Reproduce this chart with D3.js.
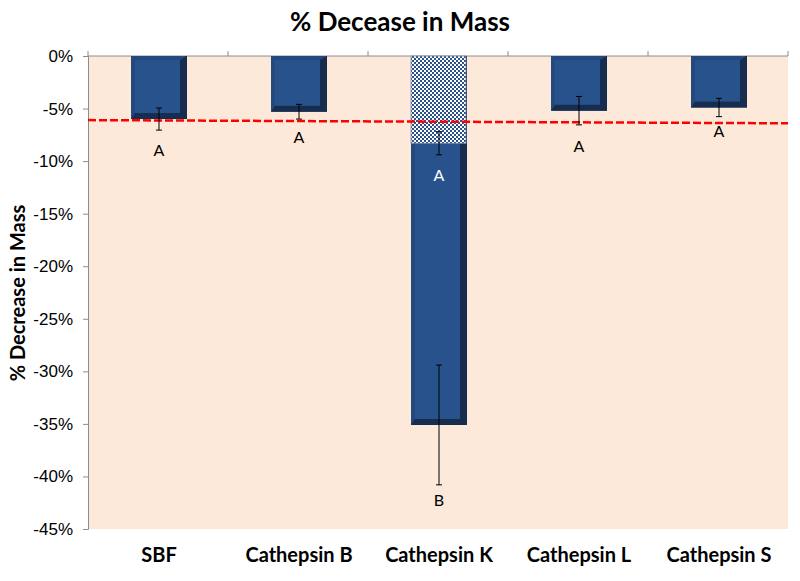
<!DOCTYPE html>
<html>
<head>
<meta charset="utf-8">
<script src="https://cdn.jsdelivr.net/npm/d3@7"></script>
<style>
  body { margin: 0; background: #fff; }
  svg { display: block; font-family: Lato, "Open Sans", sans-serif; }
</style>
</head>
<body>
<svg id="chart" width="800" height="581"></svg>
<script>
// data
const categories = ['SBF', 'Cathepsin B', 'Cathepsin K', 'Cathepsin L', 'Cathepsin S'];
const meanLoss = [-6.0, -5.3, -35.1, -5.2, -4.9];
const errLoss = [1.05, 0.7, 5.7, 1.35, 0.87];
const letters = ['A', 'A', 'B', 'A', 'A'];
const letterPos = [-9.0, -7.7, -42.3, -8.6, -7.2];

// hatched (overlaid) series, only Cathepsin K
const hatchCats = ['Cathepsin K'];
const hatchMean = [-8.3];
const hatchErr = [1.1];
const hatchLetters = ['A'];
const hatchLetterPos = [-11.4];

// red dashed reference line (start, end)
const refLine = [-6.1, -6.4];

const yTicks = [0, -5, -10, -15, -20, -25, -30, -35, -40, -45];

(function() {

const svg = d3.select('#chart');
const left = 88, right = 788, plotTop = 56, plotBottom = 529;

const x = d3.scaleBand()
  .domain(categories)
  .range([left, right])
  .paddingInner(0.6)
  .paddingOuter(0.3);

const y = d3.scaleLinear()
  .domain([0, -45])
  .range([plotTop, plotBottom]);

// checker pattern for the overlaid bar
const defs = svg.append('defs');
const pat = defs.append('pattern')
  .attr('id', 'checker')
  .attr('width', 4).attr('height', 4)
  .attr('patternUnits', 'userSpaceOnUse');
pat.append('rect').attr('width', 4).attr('height', 4).attr('fill', '#ffffff');
pat.append('rect').attr('width', 2).attr('height', 2).attr('fill', '#2b5189');
pat.append('rect').attr('x', 2).attr('y', 2).attr('width', 2).attr('height', 2).attr('fill', '#2b5189');

// plot background
svg.append('rect')
  .attr('x', left).attr('y', plotTop)
  .attr('width', right - left).attr('height', plotBottom - plotTop)
  .attr('fill', '#fde9d9');

// title
svg.append('text')
  .attr('x', 400).attr('y', 31)
  .attr('text-anchor', 'middle')
  .attr('font-size', 26).attr('font-weight', 'bold')
  .text('% Decease in Mass');

// y axis title
svg.append('text')
  .attr('transform', 'translate(25,' + 293 + ') rotate(-90)')
  .attr('text-anchor', 'middle')
  .attr('font-size', 20).attr('font-weight', 'bold')
  .text('% Decrease in Mass');

// y axis
const yAxis = svg.append('g')
  .attr('transform', `translate(${left},0)`)
  .call(d3.axisLeft(y).tickValues(yTicks).tickSize(5).tickPadding(10).tickFormat(d => d + '%'));
yAxis.select('.domain').attr('stroke', '#8c8c8c');
yAxis.selectAll('.tick line').attr('stroke', '#8c8c8c');
yAxis.selectAll('.tick text').attr('font-size', 17).attr('fill', '#000');

// x axis sits on the zero line, ticks between categories
const xAxis = svg.append('g').attr('transform', `translate(0,${plotTop})`);
xAxis.append('line')
  .attr('x1', left).attr('x2', right)
  .attr('stroke', '#8c8c8c');
const bounds = d3.range(categories.length + 1).map(i => left + i * x.step());
xAxis.selectAll('.btick').data(bounds).enter().append('line')
  .attr('x1', d => d).attr('x2', d => d)
  .attr('y1', 0).attr('y2', -5)
  .attr('stroke', '#8c8c8c');

// category labels
svg.append('g').selectAll('text')
  .data(categories).enter().append('text')
  .attr('x', d => x(d) + x.bandwidth() / 2 + 1)
  .attr('y', 562)
  .attr('text-anchor', 'middle')
  .attr('font-size', 20).attr('font-weight', 'bold')
  .text(d => d);

// bevelled bars
function bevelBar(g, x0, w, y0, y1) {
  const b = 4, br = 7, bb = 6;
  g.append('rect')
    .attr('x', x0).attr('y', y0)
    .attr('width', w).attr('height', y1 - y0)
    .attr('fill', '#1e3c68');
  // light left/top bevel
  g.append('polygon')
    .attr('points', [[x0, y0], [x0 + w, y0], [x0 + w - br, y0 + b], [x0 + b, y0 + b], [x0 + b, y1 - bb], [x0, y1]].join(' '))
    .attr('fill', '#24497f');
  // dark right/bottom bevel
  g.append('polygon')
    .attr('points', [[x0 + w, y0], [x0 + w, y1], [x0, y1], [x0 + b, y1 - bb], [x0 + w - br, y1 - bb], [x0 + w - br, y0 + b]].join(' '))
    .attr('fill', '#172d50');
  g.append('rect')
    .attr('x', x0 + b).attr('y', y0 + b)
    .attr('width', w - b - br).attr('height', Math.max(0, y1 - y0 - b - bb))
    .attr('fill', '#28528c');
}

const bars = svg.append('g');
categories.forEach((c, i) => {
  bevelBar(bars.append('g'), x(c) + 1, x.bandwidth(), y(0), y(meanLoss[i]));
});

// hatched overlay bars
hatchCats.forEach((c, i) => {
  svg.append('rect')
    .attr('x', x(c) + 1).attr('y', y(0))
    .attr('width', x.bandwidth() - 1)
    .attr('height', y(hatchMean[i]) - y(0))
    .attr('fill', 'url(#checker)')
    .attr('stroke', '#7f8fa6').attr('stroke-width', 0.8);
});

// red dashed line
svg.append('line')
  .attr('x1', left).attr('x2', right)
  .attr('y1', y(refLine[0])).attr('y2', y(refLine[1]))
  .attr('stroke', '#ff0000').attr('stroke-width', 2.5)
  .attr('stroke-dasharray', '8,3');

// error bars
function errorBar(cx, m, e) {
  const g = svg.append('g').attr('stroke', '#000').attr('stroke-width', 1);
  g.append('line').attr('x1', cx).attr('x2', cx).attr('y1', y(m + e)).attr('y2', y(m - e));
  g.append('line').attr('x1', cx - 3).attr('x2', cx + 3).attr('y1', y(m + e)).attr('y2', y(m + e));
  g.append('line').attr('x1', cx - 3).attr('x2', cx + 3).attr('y1', y(m - e)).attr('y2', y(m - e));
}
categories.forEach((c, i) => errorBar(x(c) + x.bandwidth() / 2 + 1, meanLoss[i], errLoss[i]));
hatchCats.forEach((c, i) => errorBar(x(c) + x.bandwidth() / 2 + 1, hatchMean[i], hatchErr[i]));

// significance letters
categories.forEach((c, i) => {
  svg.append('text')
    .attr('x', x(c) + x.bandwidth() / 2 + 1)
    .attr('y', y(letterPos[i]))
    .attr('dy', '0.35em')
    .attr('text-anchor', 'middle')
    .attr('font-size', 16)
    .text(letters[i]);
});
hatchCats.forEach((c, i) => {
  svg.append('text')
    .attr('x', x(c) + x.bandwidth() / 2 + 1)
    .attr('y', y(hatchLetterPos[i]))
    .attr('dy', '0.35em')
    .attr('text-anchor', 'middle')
    .attr('font-size', 16)
    .attr('fill', '#fff')
    .text(hatchLetters[i]);
});

})();
</script>
</body>
</html>
